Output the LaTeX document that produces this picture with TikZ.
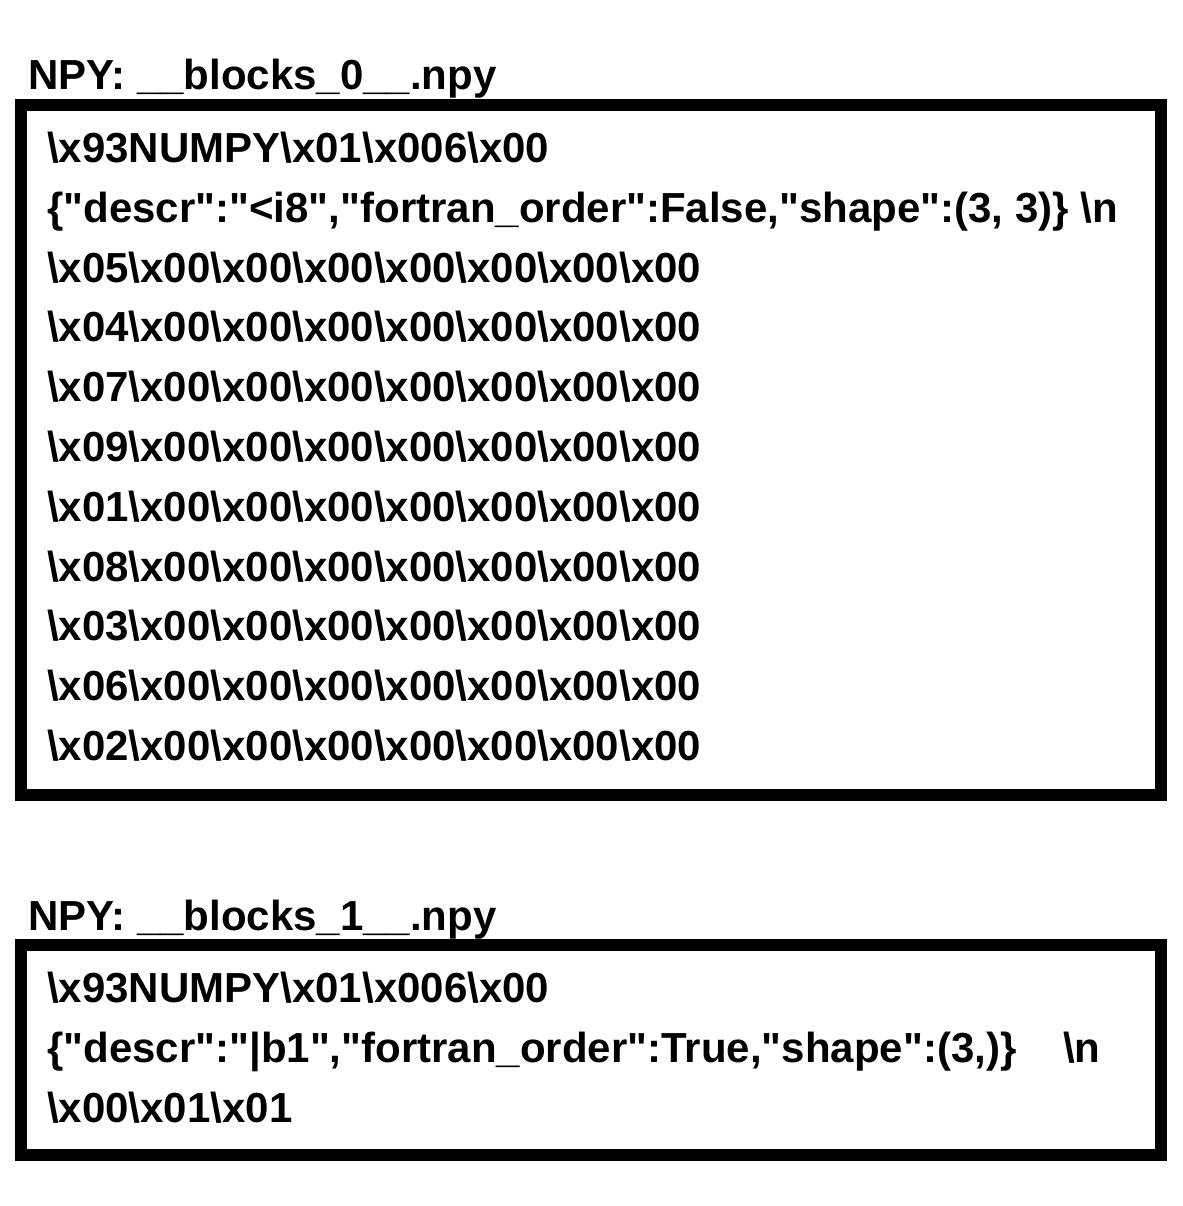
\documentclass[tikz,border=0pt]{standalone}
\usepackage{fontspec}
\setmainfont{Liberation Sans}
\begin{document}
\begin{tikzpicture}[x=1pt,y=-1pt,
  txt/.style={anchor=base west,inner sep=0pt,font=\fontsize{42}{50}\selectfont\bfseries},
  frame/.style={draw=black,line width=12pt,fill=none}]
\useasboundingbox (0,0) rectangle (1182,1206);
\newcommand{\bs}{\textbackslash}
\newcommand{\q}{\textquotedbl}
\newcommand{\zz}{\bs x00\bs x00\bs x00\bs x00\bs x00\bs x00\bs x00}
% block 0
\node[txt] (t0) at (28,90) {NPY: \_\_blocks\_0\_\_.npy};
\draw[frame] (21,105) rectangle (1161,795);
\node[txt] (a1) at (47,162.5) {\bs x93NUMPY\bs x01\bs x006\bs x00};
\node[txt] (a2) at (47,222.3) {\{\q descr\q:\q<i8\q,\q fortran\_order\q:False,\q shape\q:(3, 3)\} \bs n};
\node[txt] (a3) at (47,282.1) {\bs x05\zz};
\node[txt] (a4) at (47,341.9) {\bs x04\zz};
\node[txt] (a5) at (47,401.7) {\bs x07\zz};
\node[txt] (a6) at (47,461.5) {\bs x09\zz};
\node[txt] (a7) at (47,521.3) {\bs x01\zz};
\node[txt] (a8) at (47,581.1) {\bs x08\zz};
\node[txt] (a9) at (47,640.9) {\bs x03\zz};
\node[txt] (a10) at (47,700.7) {\bs x06\zz};
\node[txt] (a11) at (47,760.5) {\bs x02\zz};
% block 1
\node[txt] (t1) at (28,930) {NPY: \_\_blocks\_1\_\_.npy};
\draw[frame] (21,945) rectangle (1161,1155);
\node[txt] (b1) at (47,1002) {\bs x93NUMPY\bs x01\bs x006\bs x00};
\node[txt] (b2) at (47,1062) {\{\q descr\q:\q|b1\q,\q fortran\_order\q:True,\q shape\q:(3,)\}\ \ \ \ \bs n};
\node[txt] (b3) at (47,1122) {\bs x00\bs x01\bs x01};
\end{tikzpicture}
\end{document}
